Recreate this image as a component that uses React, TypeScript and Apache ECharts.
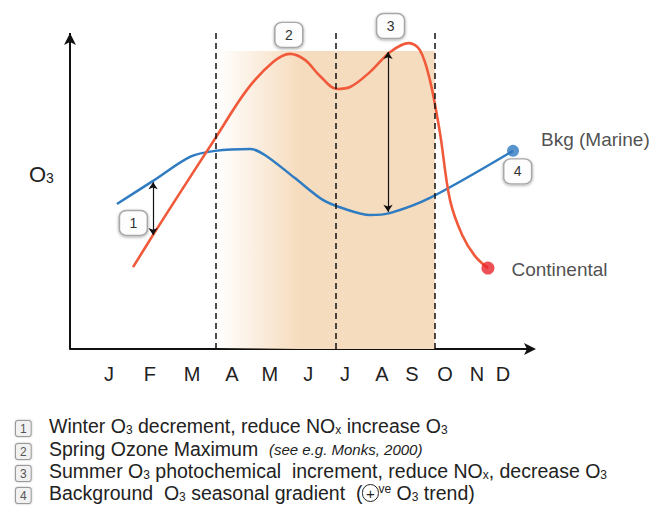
import { useEffect, useRef } from "react";
import * as echarts from "echarts";

// Month tick labels and their positions along the (month) x axis
const months = ["J", "F", "M", "A", "M", "J", "J", "A", "S", "O", "N", "D"];
const monthPos = [1.0, 2.14, 3.32, 4.43, 5.49, 6.56, 7.59, 8.62, 9.46, 10.38, 11.27, 12.0];

// Background (marine) O3 seasonal cycle (arbitrary units)
const marineX = [1.22, 2.23, 3.26, 3.96, 4.94, 5.35, 6.19, 6.97, 7.59, 8.28, 8.84, 9.96, 12.28];
const marineY = [45.9, 53.2, 60.8, 62.7, 63.3, 61.4, 54.1, 47.2, 44.3, 42.4, 43.0, 47.8, 62.7];

// Continental O3 seasonal cycle (arbitrary units)
const contX = [1.67, 2.23, 2.98, 3.99, 4.85, 5.58, 6.05, 6.47, 6.89, 7.36, 7.73, 8.29, 8.85, 9.37, 9.68, 9.96, 10.24, 10.52, 10.86, 11.22, 11.58];
const contY = [25.9, 36.1, 49.4, 67.1, 82.0, 90.8, 93.4, 91.5, 86.4, 82.3, 82.9, 87.7, 94.0, 96.8, 94.6, 85.1, 68.4, 47.2, 36.1, 29.4, 25.6];

const seriesNames = ["Bkg (Marine)", "Continental"];

// Season boundaries (dashed lines) and shaded period top
const seasonBounds = [3.99, 7.34, 10.1];
const shadeTop = 94.3;
const axisTop = 100;

// Double arrows (1: winter decrement, 3: summer increment)
const arrowX = [2.23, 8.79];
const arrowTop = [52.8, 94.0];
const arrowBottom = [36.1, 43.4];

// Numbered boxes
const boxLabels = ["1", "2", "3", "4"];
const boxX = [1.68, 6.02, 8.86, 12.41];
const boxY = [39.9, 99.4, 102.2, 56.2];

// Notes beneath the chart
const noteNums = ["1", "2", "3", "4"];
const notes = [
  "Winter O{s|3} decrement, reduce NO{s|x} increase O{s|3}",
  "Spring Ozone Maximum  {i|(see e.g. Monks, 2000)}",
  "Summer O{s|3} photochemical  increment, reduce NO{s|x}, decrease O{s|3}",
  "Background  O{s|3} seasonal gradient  ({c|+}{p|ve} O{s|3} trend)",
];

const FONT = "'Liberation Sans', Arial, sans-serif";
const TXT = "#222";

export default function App() {
  const ref = useRef<HTMLDivElement>(null);
  useEffect(() => {
    if (!ref.current) return;
    const chart = echarts.init(ref.current, undefined, { renderer: "svg" });
    const marine = marineX.map((x, i) => [x, marineY[i]]);
    const cont = contX.map((x, i) => [x, contY[i]]);
    const xMin = -0.09;
    const tan = "#F6DCBE";
    const richBase = {
      s: { fontSize: 12, verticalAlign: "bottom", lineHeight: 13, fill: TXT, fontFamily: FONT },
      p: { fontSize: 12, verticalAlign: "top", lineHeight: 13, fill: TXT, fontFamily: FONT },
      i: { fontSize: 15, fontStyle: "italic", fill: TXT, fontFamily: FONT },
      c: {
        fontSize: 15,
        fill: TXT,
        borderColor: "#222",
        borderWidth: 1,
        borderRadius: 9,
        width: 16,
        height: 17,
        align: "center",
        fontFamily: FONT,
      },
    };
    const noteY = [428, 451, 473, 495];
    const option = {
      animation: false,
      backgroundColor: "#fff",
      grid: { left: 70, right: 122, top: 10, bottom: 161 },
      xAxis: {
        type: "value",
        min: xMin,
        max: 12.81,
        splitLine: { show: false },
        axisTick: { show: false },
        axisLine: {
          onZero: false,
          symbol: ["none", "arrow"],
          symbolSize: [9, 12],
          symbolOffset: [0, 4],
          lineStyle: { color: "#111", width: 2 },
        },
        axisLabel: {
          customValues: monthPos,
          formatter: (v: number) => {
            const i = monthPos.findIndex((m) => Math.abs(m - v) < 1e-6);
            return i >= 0 ? months[i] : "";
          },
          color: TXT,
          fontSize: 20,
          fontFamily: FONT,
          margin: 15,
        },
      },
      yAxis: {
        type: "value",
        min: 0,
        max: 107.28,
        splitLine: { show: false },
        axisTick: { show: false },
        axisLabel: { show: false },
        axisLine: { show: false },
      },
      series: [
        {
          type: "line",
          data: [],
          z: 1,
          silent: true,
          markArea: {
            silent: true,
            itemStyle: {
              opacity: 1,
              color: new echarts.graphic.LinearGradient(0, 0, 1, 0, [
                { offset: 0, color: "rgba(246,220,190,0)" },
                { offset: 0.38, color: tan },
                { offset: 1, color: tan },
              ]),
            },
            data: [[{ xAxis: seasonBounds[0], yAxis: 0 }, { xAxis: seasonBounds[2], yAxis: shadeTop }]],
          },
          markLine: {
            silent: true,
            symbol: ["none", "none"],
            label: { show: false },
            lineStyle: { type: [6, 4], color: "#111", width: 1.5 },
            data: seasonBounds.map((x) => [{ coord: [x, 0] }, { coord: [x, axisTop] }]),
          },
        },
        {
          type: "line",
          data: [],
          z: 6,
          silent: true,
          markLine: {
            silent: true,
            symbol: ["none", "arrow"],
            symbolSize: [9, 12],
            label: { show: false },
            lineStyle: { type: "solid", color: "#111", width: 2 },
            data: [[{ coord: [xMin, 0] }, { coord: [xMin, axisTop] }]],
          },
        },
        {
          name: seriesNames[0],
          type: "line",
          z: 3,
          data: marine,
          smooth: 0.3,
          showSymbol: false,
          lineStyle: { color: "#2F7CC2", width: 2.5 },
          itemStyle: { color: "#2F7CC2" },
          markLine: {
            silent: true,
            symbol: ["arrow", "arrow"],
            symbolSize: 7,
            label: { show: false },
            lineStyle: { type: "solid", color: "#111", width: 1.2 },
            data: arrowX.map((x, i) => [{ coord: [x, arrowTop[i]] }, { coord: [x, arrowBottom[i]] }]),
          },
        },
        {
          name: seriesNames[1],
          type: "line",
          z: 4,
          data: cont,
          smooth: 0.35,
          showSymbol: false,
          lineStyle: { color: "#F05A3A", width: 2.6 },
          itemStyle: { color: "#F05A3A" },
          markPoint: {
            silent: true,
            symbol: "roundRect",
            symbolSize: [28, 25],
            itemStyle: {
              color: "#fdfdfd",
              borderColor: "#a8a8a8",
              borderWidth: 1.5,
              shadowBlur: 3,
              shadowColor: "rgba(0,0,0,0.35)",
              shadowOffsetY: 1,
            },
            label: { show: true, formatter: "{b}", color: "#333", fontSize: 14, fontFamily: FONT },
            data: boxLabels.map((t, i) => ({ name: t, coord: [boxX[i], boxY[i]] })),
          },
        },
        {
          type: "scatter",
          z: 5,
          symbolSize: 12,
          data: [{ value: marine[marine.length - 1], name: seriesNames[0] }],
          itemStyle: { color: "#2F78C0" },
          label: {
            show: true,
            position: "right",
            formatter: "{b}",
            offset: [17, -11],
            color: TXT,
            fontSize: 19,
            fontFamily: FONT,
          },
        },
        {
          type: "scatter",
          z: 5,
          symbolSize: 13,
          data: [{ value: cont[cont.length - 1], name: seriesNames[1] }],
          itemStyle: { color: "#E8262A" },
          label: {
            show: true,
            position: "right",
            formatter: "{b}",
            offset: [12, 1],
            color: TXT,
            fontSize: 19,
            fontFamily: FONT,
          },
        },
      ],
      graphic: [
        {
          type: "text",
          left: 29,
          top: 163,
          style: {
            text: "O{s|3}",
            fontSize: 22,
            fontFamily: FONT,
            fill: TXT,
            rich: { s: { fontSize: 14, verticalAlign: "bottom", lineHeight: 14, fontFamily: FONT, fill: TXT } },
          },
        },
        ...noteNums.map((t, i) => ({
          type: "text",
          left: 15,
          top: noteY[i] - 8,
          style: {
            text: t,
            fontSize: 12,
            fontFamily: FONT,
            fill: "#555",
            backgroundColor: "#f1f1f1",
            borderColor: "#999",
            borderWidth: 1,
            borderRadius: 2,
            padding: [2, 4, 1, 4],
            shadowColor: "rgba(0,0,0,0.25)",
            shadowBlur: 2,
          },
        })),
        ...notes.map((t, i) => ({
          type: "text",
          left: 49,
          top: noteY[i] - 12,
          style: {
            text: t,
            fontSize: 19.5,
            fontFamily: FONT,
            fill: TXT,
            rich: richBase,
          },
        })),
      ],
    };
    chart.setOption(option as any);
    return () => chart.dispose();
  }, []);
  return (
    <div
      ref={ref}
      style={{ position: "fixed", left: 0, top: 0, width: 654, height: 510, background: "#fff" }}
    />
  );
}
